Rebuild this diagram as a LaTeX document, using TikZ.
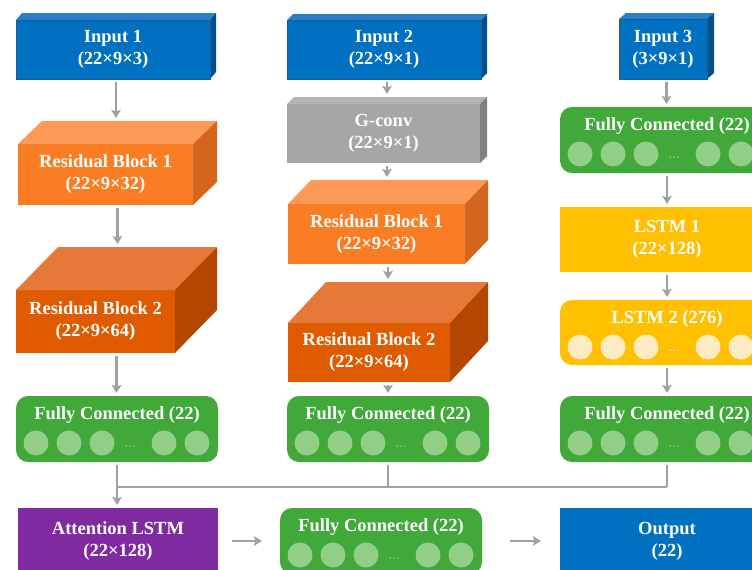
\documentclass[tikz,border=0pt]{standalone}
\usepackage{fontspec}
\setmainfont{Liberation Serif}
\usetikzlibrary{arrows.meta}
\definecolor{inblue}{HTML}{0070C0}
\definecolor{intop}{HTML}{2A80C8}
\definecolor{inside}{HTML}{00508F}
\definecolor{inline}{HTML}{1A5A99}
\definecolor{rbone}{HTML}{FA7D24}
\definecolor{rbonetop}{HTML}{FD9A55}
\definecolor{rbonesd}{HTML}{D2661C}
\definecolor{rbtwo}{HTML}{E05A00}
\definecolor{rbtwotop}{HTML}{E57A38}
\definecolor{rbtwosd}{HTML}{B44700}
\definecolor{gconvgray}{HTML}{A6A6A6}
\definecolor{gconvtop}{HTML}{B3B3B3}
\definecolor{gconvsd}{HTML}{808080}
\definecolor{fcgreen}{HTML}{40A93A}
\definecolor{fcball}{HTML}{93CE88}
\definecolor{lstmyel}{HTML}{FFC000}
\definecolor{lstmball}{HTML}{FFEBC2}
\definecolor{attpur}{HTML}{7F2AA1}
\definecolor{arrgray}{HTML}{A0A0A0}
\begin{document}
\begin{tikzpicture}[x=1pt,y=-1pt,
	box/.style={rectangle,inner sep=0pt,outer sep=0pt,text=white,align=center,
		font=\bfseries\fontsize{18.5}{22}\selectfont},
	ttl/.style={inner sep=0pt,text=white,font=\bfseries\fontsize{18.5}{22}\selectfont},
	dotx/.style={inner sep=0pt,font=\bfseries\fontsize{11}{11}\selectfont},
	arr/.style={draw=arrgray,line width=2.3pt,-{Stealth[length=8pt,width=9.5pt,inset=1.5pt]},
		shorten <=3pt,shorten >=3pt},
	ln/.style={draw=arrgray,line width=2.3pt}]
	\useasboundingbox (0,0) rectangle (752,570);
	\clip (0,0) rectangle (752,570);
	\foreach \n/\x/\y/\w/\h/\c/\texn in {in1/113/49.5/194/59/inblue/{Input 1\\(22×9×3)},
		in2/384/49.5/194/59/inblue/{Input 2\\(22×9×1)},
		in3/663/49/88/60/inblue/{Input 3\\(3×9×1)},
		gconv/383.5/133.5/193/59/gconvgray/{G-conv\\(22×9×1)},
		rb1a/105.5/174.5/175/61/rbone/{Residual Block 1\\(22×9×32)},
		rb2a/95.5/321.5/159/63/rbtwo/{Residual Block 2\\(22×9×64)},
		rb1b/376.5/234/177/60/rbone/{Residual Block 1\\(22×9×32)},
		rb2b/369/352.5/162/59/rbtwo/{Residual Block 2\\(22×9×64)}}
	\path (\x,\y) node[box,fill=\c,minimum width=\w pt,minimum height=\h pt](\n){\texn};
	\foreach \n/\dx/\dy/\tc/\sc in {in1/6/7/intop/inside,in2/6/6/intop/inside,
		in3/7/6/intop/inside,gconv/7/7/gconvtop/gconvsd,rb1a/24/23/rbonetop/rbonesd,
		rb2a/42/43/rbtwotop/rbtwosd,rb1b/23/24/rbonetop/rbonesd,rb2b/38/41/rbtwotop/rbtwosd}{
		\fill[\tc] (\n.north west) -- ++(\dx pt,\dy pt)
		-- ([shift={(\dx pt,\dy pt)}]\n.north east) -- (\n.north east) -- cycle;
		\fill[\sc] (\n.north east) -- ++(\dx pt,\dy pt)
		-- ([shift={(\dx pt,\dy pt)}]\n.south east) -- (\n.south east) -- cycle;
		\coordinate (\n-t) at ([xshift={\dx*0.5},yshift={\dy}]\n.north);
		\coordinate (\n-b) at ([xshift={\dx*0.5}]\n.south);
	}
	\foreach \n in {in1,in2,in3} \draw[inline,line width=0.6pt] (\n.north west) rectangle (\n.south east);
	\foreach \n/\x/\y/\w/\h/\c/\rc/\texn in {fc3/667/140/214/66/fcgreen/12/{},
		lstm1/667/239.5/214/65/lstmyel/0/{LSTM 1\\(22×128)},
		lstm2/667/332.5/214/65/lstmyel/12/{},
		fca/117/429/202/66/fcgreen/12/{},fcb/388/429/202/66/fcgreen/12/{},
		fcc/667/429/214/66/fcgreen/12/{},
		att/118/541/200/66/attpur/0/{Attention LSTM\\(22×128)},
		fco/381/541/202/66/fcgreen/12/{},
		out/667/541/214/66/inblue/0/{Output\\(22)}}
	\path (\x,\y) node[box,fill=\c,rounded corners=\rc pt,minimum width=\w pt,
		minimum height=\h pt](\n){\texn};
	\foreach \n/\texn/\bc in {fc3/Fully Connected (22)/fcball,lstm2/LSTM 2 (276)/lstmball,
		fca/Fully Connected (22)/fcball,fcb/Fully Connected (22)/fcball,
		fcc/Fully Connected (22)/fcball,fco/Fully Connected (22)/fcball}{
		\path ([yshift=-19.5pt]\n.north) node[ttl](\n-ttl){\texn};
		\foreach \dx in {20,53,86,148,181}
		\fill[\bc] ([xshift=\dx pt,yshift=-47pt]\n.north west) circle (12.5pt);
		\path ([xshift=114pt,yshift=-51pt]\n.north west) node[dotx,text=\bc](\n-dots){…};
	}
	\draw[arr] (in1-b) -- (in1-b |- rb1a-t);
	\draw[arr] (rb1a-b) -- (rb1a-b |- rb2a-t);
	\draw[arr] (rb2a-b) -- (rb2a-b |- fca.north);
	\draw[arr] (in2-b) -- (in2-b |- gconv-t);
	\draw[arr] (gconv-b) -- (gconv-b |- rb1b-t);
	\draw[arr] (rb1b-b) -- (rb1b-b |- rb2b-t);
	\draw[arr] (rb2b-b) -- (rb2b-b |- fcb.north);
	\draw[arr] (in3-b) -- (in3-b |- fc3.north);
	\draw[arr] (fc3.south) -- (lstm1.north);
	\draw[arr] (lstm1.south) -- (lstm2.north);
	\draw[arr] (lstm2.south) -- (fcc.north);
	\coordinate (mrg) at (117,487);
	\draw[ln,shorten <=3pt] (fcb.south) -- (fcb.south |- mrg);
	\draw[ln,shorten <=3pt] (fcc.south) -- (fcc.south |- mrg);
	\draw[ln] (fcc.south |- mrg) -- (fca.south |- mrg);
	\draw[arr] (fca.south) -- (fca.south |- mrg) -- (fca.south |- att.north);
	\draw[arr,shorten <=14pt,shorten >=18pt] (att.east) -- (fco.west);
	\draw[arr,shorten <=28pt,shorten >=19pt] (fco.east) -- (out.west);
\end{tikzpicture}
\end{document}
